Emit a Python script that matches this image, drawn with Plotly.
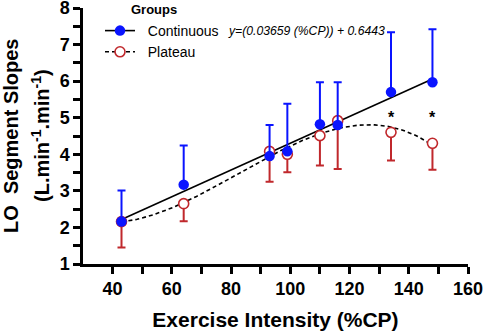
import numpy as np
import plotly.graph_objects as go

# ---- data ----
x_cp = [43, 64, 93, 99, 110, 116, 134, 148]
cont_mean = [2.16, 3.17, 3.95, 4.08, 4.82, 4.80, 5.70, 5.97]
cont_sd = [0.85, 1.07, 0.85, 1.30, 1.15, 1.17, 1.64, 1.45]
plat_mean = [2.16, 2.65, 4.08, 4.00, 4.51, 4.92, 4.60, 4.30]
plat_sd = [0.71, 0.48, 0.83, 0.49, 0.82, 1.32, 0.77, 0.72]
fit_slope = 0.03659
fit_intercept = 0.6443
fit_x = [43, 148]
sig_x = [134, 148]
sig_y = [5.0, 5.0]
x_ticks = [40, 60, 80, 100, 120, 140, 160]
y_ticks = [1, 2, 3, 4, 5, 6, 7, 8]

FONT = "Arial, Liberation Sans, sans-serif"
BLUE = "#0a14ff"
RED = "#c0282c"

fig = go.Figure()

# cubic fit of plateau means
coef = np.polyfit(x_cp, plat_mean, 3)
cx = np.linspace(min(x_cp), max(x_cp), 200)
cy = np.polyval(coef, cx)

fit_y = [fit_slope * v + fit_intercept for v in fit_x]

fig.add_trace(go.Scatter(x=cx, y=cy, mode="lines", showlegend=False,
                         line=dict(color="black", width=1.6, dash="4px,3px"), hoverinfo="skip"))
fig.add_trace(go.Scatter(x=fit_x, y=fit_y, mode="lines", showlegend=False,
                         line=dict(color="black", width=1.6), hoverinfo="skip"))

fig.add_trace(go.Scatter(
    x=x_cp, y=plat_mean, mode="markers", showlegend=False,
    marker=dict(symbol="circle", size=10, color="white", line=dict(width=1.6, color=RED)),
    error_y=dict(type="data", array=[0]*len(plat_sd), arrayminus=plat_sd, symmetric=False,
                 color=RED, thickness=2, width=4)))
fig.add_trace(go.Scatter(
    x=x_cp, y=cont_mean, mode="markers", showlegend=False,
    marker=dict(symbol="circle", size=10.5, color=BLUE),
    error_y=dict(type="data", array=cont_sd, arrayminus=[0]*len(cont_sd), symmetric=False,
                 color=BLUE, thickness=2, width=4)))

# legend-only traces
fig.add_trace(go.Scatter(x=[None], y=[None], mode="lines+markers",
                         name="\u00a0\u00a0Continuous",
                         line=dict(color="black", width=1.6),
                         marker=dict(symbol="circle", size=10.5, color=BLUE)))
fig.add_trace(go.Scatter(x=[None], y=[None], mode="lines+markers",
                         name="\u00a0\u00a0Plateau",
                         line=dict(color="black", width=1.6, dash="4px,3px"),
                         marker=dict(symbol="circle", size=10, color="white",
                                     line=dict(width=1.6, color=RED))))

for xs, ys in zip(sig_x, sig_y):
    fig.add_annotation(x=xs, y=ys, text="*", showarrow=False,
                       font=dict(family=FONT, size=16, color="black", weight="bold"))

fig.add_annotation(xref="paper", yref="paper", x=(226-83)/385, y=1-(31-8)/256,
                   xanchor="left", yanchor="middle", showarrow=False,
                   text="<i>y=(0.03659 (%CP)) + 0.6443</i>",
                   font=dict(family=FONT, size=12.2, color="black"))
fig.add_annotation(xref="paper", yref="paper", x=(154-83)/385, y=1-(9-8)/256,
                   xanchor="center", yanchor="middle", showarrow=False,
                   text="<b>Groups</b>",
                   font=dict(family=FONT, size=13, color="black"))

# y-axis title (two lines)
fig.add_annotation(xref="paper", yref="paper", x=-(83-11)/385, y=0.5,
                   xanchor="center", yanchor="middle", showarrow=False, textangle=-90,
                   text="<b>LO  Segment Slopes</b>",
                   font=dict(family=FONT, size=20, color="black"))
fig.add_annotation(xref="paper", yref="paper", x=-(83-40)/385, y=0.5,
                   xanchor="center", yanchor="middle", showarrow=False, textangle=-90,
                   text="<b>(L.min<sup>-1</sup>.min<sup>-1</sup>)</b>",
                   font=dict(family=FONT, size=20, color="black"))

axis_common = dict(showline=True, linecolor="black", linewidth=2.5, ticks="outside",
                   ticklen=7, tickwidth=2.5, tickcolor="black", showgrid=False, zeroline=False,
                   automargin=False, ticklabeloverflow="allow",
                   tickfont=dict(family=FONT, size=18, color="black", weight="bold"))

fig.update_xaxes(range=[30, 160], tickvals=x_ticks,
                 minor=dict(tickvals=[50, 70, 90, 110, 130, 150], ticks="outside", ticklen=7,
                            tickwidth=2.5, tickcolor="black"),
                 title=dict(text="<b>Exercise Intensity (%CP)</b>",
                            font=dict(family=FONT, size=21, color="black"), standoff=14),
                 **axis_common)
fig.update_yaxes(range=[1, 8], tickvals=y_ticks,
                 minor=dict(tickvals=[1.5, 2.5, 3.5, 4.5, 5.5, 6.5, 7.5], ticks="outside",
                            ticklen=7, tickwidth=2.5, tickcolor="black"),
                 **axis_common)

fig.update_layout(
    width=484, height=333, margin=dict(l=83, r=16, t=8, b=69),
    plot_bgcolor="white", paper_bgcolor="white",
    legend=dict(x=(100-83)/385, y=1-(15-8)/256, xanchor="left", yanchor="top",
                bgcolor="rgba(0,0,0,0)", font=dict(family=FONT, size=14, color="black"),
                tracegroupgap=0, itemwidth=30),
)

fig.write_html("out.html", config={"displayModeBar": False},
               post_script="document.body.style.margin='0';document.body.style.overflow='hidden';")
